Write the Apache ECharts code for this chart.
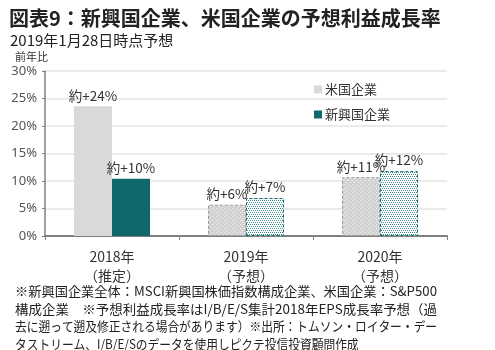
<!DOCTYPE html>
<html><head><meta charset="utf-8">
<script src="https://cdn.jsdelivr.net/npm/echarts@6/dist/echarts.min.js"></script>
<style>html,body{margin:0;padding:0;background:#fff}#c{width:495px;height:350px}</style>
</head><body><div id="c"></div>
<script>
var categories = ['2018年\n（推定）', '2019年\n（予想）', '2020年\n（予想）'];
var usValues = [23.6, 5.7, 10.7];
var emValues = [10.4, 6.9, 11.8];
var usLabels = ['約+24%', '約+6%', '約+11%'];
var emLabels = ['約+10%', '約+7%', '約+12%'];
var seriesNames = ['米国企業', '新興国企業'];
var yTicks = [0, 5, 10, 15, 20, 25, 30];
var titleText = '図表9：新興国企業、米国企業の予想利益成長率';
var subText = '2019年1月28日時点予想';
var unitText = '前年比';
var notes = [
  '※新興国企業全体：MSCI新興国株価指数構成企業、米国企業：S&P500',
  '構成企業　※予想利益成長率はI/B/E/S集計2018年EPS成長率予想（過',
  '去に遡って遡及修正される場合があります）※出所：トムソン・ロイター・デー',
  'タストリーム、I/B/E/Sのデータを使用しピクテ投信投資顧問作成'
];

var GRAY = '#d9d9d9', TEAL = '#11686c';
function makePattern(bg, dot, pts, size) {
  var c = document.createElement('canvas');
  c.width = size; c.height = size;
  var g = c.getContext('2d');
  g.fillStyle = bg; g.fillRect(0, 0, size, size);
  g.fillStyle = dot;
  pts.forEach(function (p) { g.fillRect(p[0], p[1], 1, 1); });
  return { image: c, repeat: 'repeat' };
}
var usPat = makePattern('#d2d2d2', '#f2f2f2', [[0, 0], [2, 2]], 4);
var emPat = makePattern('#ffffff', '#3f8b8e', [[0, 0], [2, 0], [1, 2], [3, 2]], 4);

function buildData(vals, solid, pat, border) {
  return vals.map(function (v, i) {
    if (i === 0) return { value: v, itemStyle: { color: solid } };
    return { value: v, itemStyle: { color: pat, borderColor: border, borderWidth: 1, borderType: [3, 2] } };
  });
}

var labelStyle = { show: true, position: 'top', distance: 4, fontSize: 13.5, color: '#333',
  fontFamily: 'Noto Sans CJK JP' };

// horizontal fit of footnote lines
var NOTE_FONT = 13, NOTE_W = 422;
var mctx = document.createElement('canvas').getContext('2d');
mctx.font = NOTE_FONT + 'px "Noto Sans CJK JP"';
var noteScales = notes.map(function (t) { return NOTE_W / mctx.measureText(t).width; });
noteScales[3] = Math.min(noteScales[0], noteScales[1], noteScales[2]);

var chart = echarts.init(document.getElementById('c'), null, { renderer: 'canvas' });
chart.setOption({
  animation: false,
  textStyle: { fontFamily: 'Noto Sans CJK JP' },
  grid: { left: 45, right: 48, top: 71, bottom: 114, containLabel: false },
  legend: {
    left: 309, top: 78, orient: 'vertical', itemWidth: 8, itemHeight: 8, itemGap: 12,
    icon: 'rect',
    textStyle: { fontSize: 13, color: '#333', fontFamily: 'Noto Sans CJK JP', padding: [0, 0, 0, -2] },
    data: [{ name: seriesNames[0], itemStyle: { color: GRAY } }, { name: seriesNames[1], itemStyle: { color: TEAL } }]
  },
  xAxis: {
    type: 'category', data: categories,
    axisLine: { lineStyle: { color: '#808080', width: 2 } },
    axisTick: { show: true, length: 4, lineStyle: { color: '#808080' } },
    axisLabel: { color: '#333', fontSize: 14, margin: 11, lineHeight: 19, fontFamily: 'Noto Sans CJK JP' }
  },
  yAxis: {
    type: 'value', min: yTicks[0], max: yTicks[yTicks.length - 1], interval: 5,
    axisLine: { show: true, lineStyle: { color: '#808080', width: 1.5 } },
    axisTick: { show: true, length: 3, lineStyle: { color: '#808080' } },
    axisLabel: { color: '#555', fontSize: 13, margin: 8, formatter: '{value}%', fontFamily: 'Noto Sans' },
    splitLine: { lineStyle: { color: '#e3e3e3', width: 1.5 } }
  },
  series: [
    { name: seriesNames[0], type: 'bar', barWidth: 38, barGap: '0%',
      data: buildData(usValues, GRAY, usPat, '#9a9a9a'),
      label: Object.assign({}, labelStyle, { formatter: function (p) { return usLabels[p.dataIndex]; } }) },
    { name: seriesNames[1], type: 'bar', barWidth: 38, barGap: '0%',
      data: buildData(emValues, TEAL, emPat, TEAL),
      label: Object.assign({}, labelStyle, { formatter: function (p) { return emLabels[p.dataIndex]; } }) }
  ],
  graphic: [
    { type: 'text', left: 9, top: 8, style: { text: titleText, fontSize: 20, fontWeight: 'bold', fill: '#222', fontFamily: 'Noto Sans CJK JP' } },
    { type: 'text', left: 10, top: 33, style: { text: subText, fontSize: 15, fill: '#222', fontFamily: 'Noto Sans CJK JP' } },
    { type: 'text', left: 15, top: 51, style: { text: unitText, fontSize: 11, fill: '#333', fontFamily: 'Noto Sans CJK JP' } }
  ].concat(notes.map(function (t, i) {
    return { type: 'text', x: 15, y: 285 + i * 17.5, scaleX: noteScales[i], originX: 0,
      style: { text: t, fontSize: NOTE_FONT, fill: '#222', fontFamily: 'Noto Sans CJK JP' } };
  }))
});
</script></body></html>
